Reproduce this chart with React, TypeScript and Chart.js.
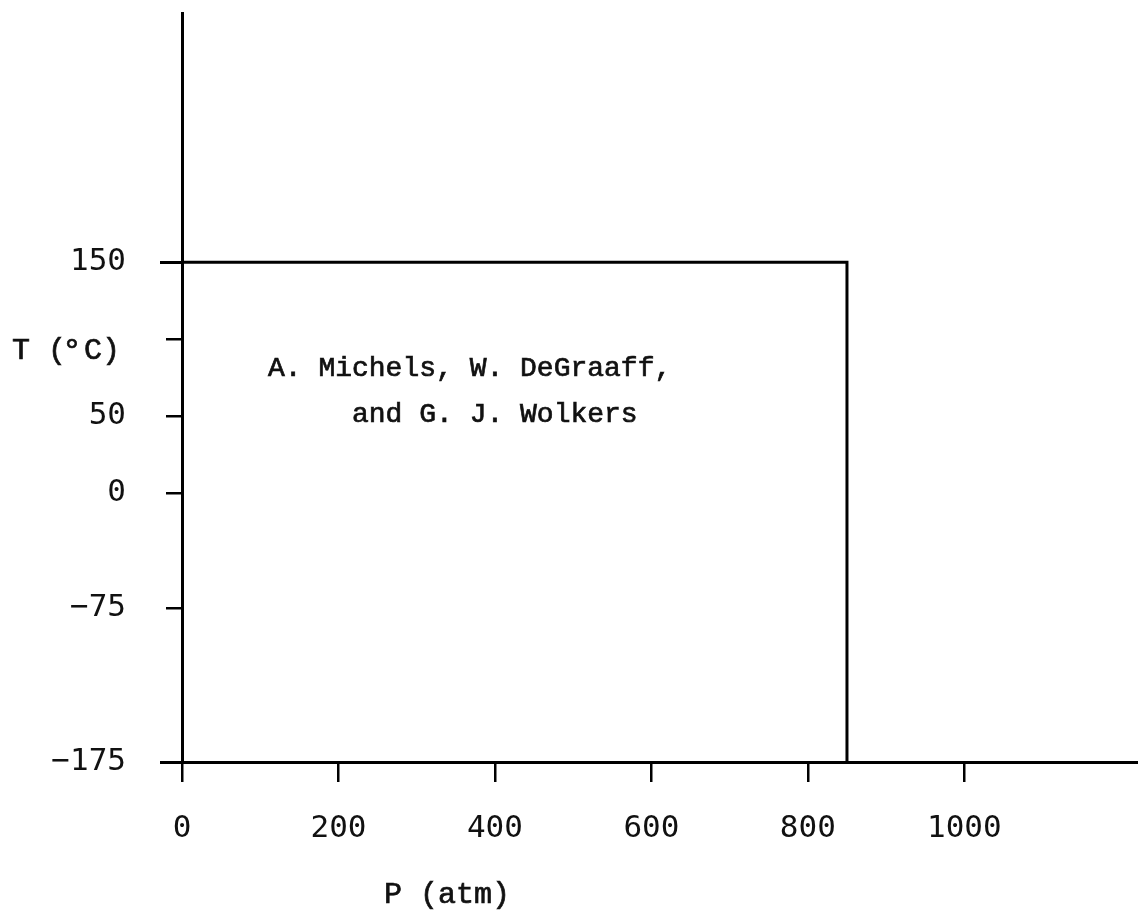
import React, { useEffect, useRef } from "react";
import { Chart, registerables } from "chart.js";

Chart.register(...registerables);

// Data: boundary of the measured region (P in atm, T in °C)
const pressureAtm = [0, 850, 850];
const temperatureC = [150, 150, -175];

// Axis ticks
const xTickValues = [0, 200, 400, 600, 800, 1000];
const xTickLabels = ["0", "200", "400", "600", "800", "1000"];
const yTickValues = [-175, -75, 0, 50, 100, 150];
const yTickLabels = ["−175", "−75", "0", "50", "", "150"];

// Texts
const xAxisTitle = "P (atm)";
const yAxisTitleParts = ["T (", "°", "C)"];
const annotationLine1 = "A. Michels, W. DeGraaff,";
const annotationLine2 = "and G. J. Wolkers";

const MONO = '"Liberation Mono", "Courier New", monospace';
const TICK_FONT = '"DejaVu Sans Mono", "Liberation Mono", monospace';

function typed(ctx: any, text: string, x: number, y: number) {
  ctx.fillText(text, x, y);
  ctx.strokeText(text, x, y);
}

const textPlugin = {
  id: "typedText",
  afterDraw(chart: any) {
    const ctx = chart.ctx;
    const xs = chart.scales.x;
    const ys = chart.scales.y;
    ctx.save();
    // longer tick marks at the ends of the labelled range
    ctx.strokeStyle = "#000";
    ctx.lineWidth = 3;
    [150, -175].forEach((v) => {
      const py = Math.round(ys.getPixelForValue(v)) + 0.5;
      ctx.beginPath();
      ctx.moveTo(xs.left - 22, py);
      ctx.lineTo(xs.left, py);
      ctx.stroke();
    });
    ctx.fillStyle = "#111";
    ctx.strokeStyle = "#111";
    ctx.lineWidth = 0.7;
    ctx.textAlign = "left";
    ctx.textBaseline = "alphabetic";
    // y axis title with a raised degree mark
    ctx.font = "30px " + MONO;
    typed(ctx, yAxisTitleParts[0], 12, 359);
    ctx.textAlign = "center";
    ctx.font = "34px " + MONO;
    typed(ctx, yAxisTitleParts[1], 72, 361);
    ctx.textAlign = "left";
    ctx.font = "30px " + MONO;
    typed(ctx, yAxisTitleParts[2], 84, 359);
    // x axis title
    typed(ctx, xAxisTitle, 384, 903);
    // annotation
    ctx.font = "28px " + MONO;
    const x1 = 268;
    typed(ctx, annotationLine1, x1, 376);
    const adv = ctx.measureText("M").width;
    typed(ctx, annotationLine2, x1 + 5 * adv, 422);
    ctx.restore();
  },
};

export default function App() {
  const canvasRef = useRef<HTMLCanvasElement | null>(null);

  useEffect(() => {
    const canvas = canvasRef.current;
    if (!canvas) return;
    const chart = new Chart(canvas, {
      type: "line",
      data: {
        datasets: [
          {
            data: pressureAtm.map((p, i) => ({ x: p, y: temperatureC[i] })),
            borderColor: "#000",
            borderWidth: 3,
            pointRadius: 0,
            tension: 0,
            fill: false,
          },
        ],
      },
      options: {
        animation: false,
        responsive: false,
        layout: { padding: { top: 13, right: 0, bottom: 0, left: 0 } },
        plugins: {
          legend: { display: false },
          tooltip: { enabled: false },
          title: { display: false },
        },
        scales: {
          x: {
            type: "linear",
            min: 0,
            max: 1222,
            afterBuildTicks: (s: any) => {
              s.ticks = xTickValues.map((v) => ({ value: v }));
            },
            afterFit: (s: any) => {
              s.height = 150;
              s.paddingLeft = 0;
              s.paddingRight = 0;
              s.paddingTop = 0;
              s.paddingBottom = 0;
            },
            grid: {
              display: true,
              drawOnChartArea: false,
              drawTicks: true,
              tickLength: 20,
              color: "#000",
              lineWidth: 2.5,
            },
            border: { display: true, color: "#000", width: 3 },
            ticks: {
              autoSkip: false,
              maxRotation: 0,
              padding: 28,
              color: "#111",
              font: { family: TICK_FONT, size: 31 },
              callback: (v: any) => {
                const i = xTickValues.indexOf(Number(v));
                return i >= 0 ? xTickLabels[i] : "";
              },
            },
          },
          y: {
            type: "linear",
            min: -175,
            max: 312,
            afterBuildTicks: (s: any) => {
              s.ticks = yTickValues.map((v) => ({ value: v }));
            },
            afterFit: (s: any) => {
              s.width = 182;
              s.paddingTop = 0;
              s.paddingBottom = 0;
              s.paddingLeft = 0;
              s.paddingRight = 0;
            },
            grid: {
              display: true,
              drawOnChartArea: false,
              drawTicks: true,
              tickLength: 16,
              color: "#000",
              lineWidth: 2.5,
            },
            border: { display: true, color: "#000", width: 3 },
            ticks: {
              autoSkip: false,
              padding: 40,
              color: "#111",
              font: { family: TICK_FONT, size: 31 },
              callback: (v: any) => {
                const i = yTickValues.indexOf(Number(v));
                return i >= 0 ? yTickLabels[i] : "";
              },
            },
          },
        },
      },
      plugins: [textPlugin],
    });
    return () => chart.destroy();
  }, []);

  return (
    <div style={{ position: "absolute", left: 0, top: 0, width: 1138, height: 912, background: "#fff" }}>
      <canvas ref={canvasRef} width={1138} height={912} style={{ display: "block" }} />
    </div>
  );
}
